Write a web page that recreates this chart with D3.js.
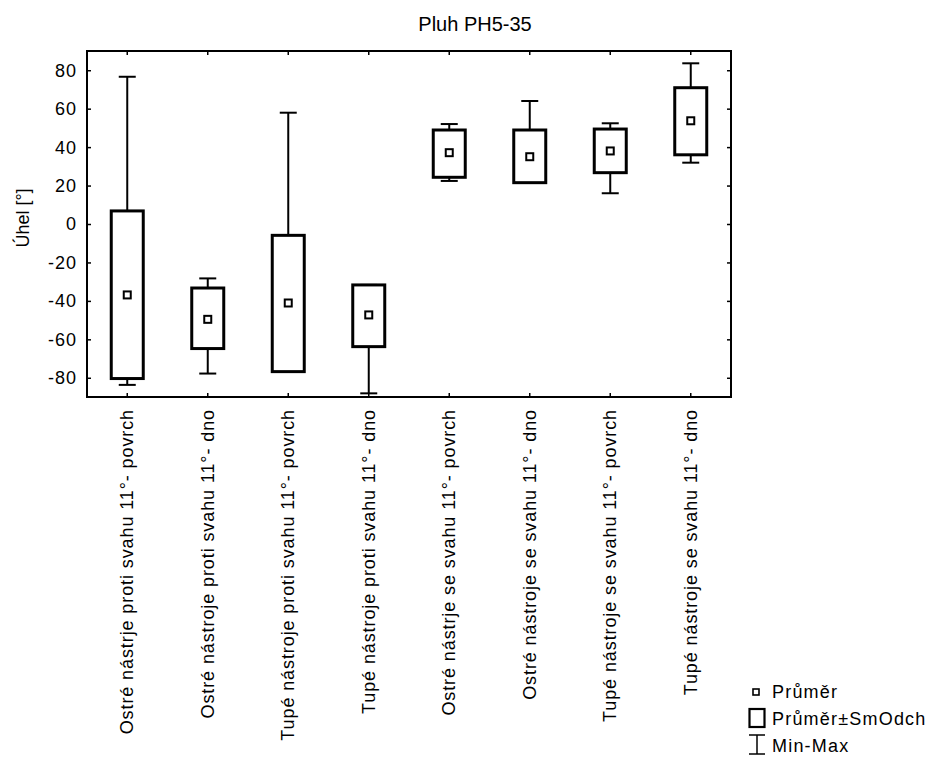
<!DOCTYPE html>
<html><head><meta charset="utf-8">
<script src="https://cdn.jsdelivr.net/npm/d3@7"></script>
<style>body{margin:0;background:#fff}svg{display:block}text{font-family:"Liberation Sans",Arial,sans-serif;fill:#000}</style>
</head><body>
<svg id="c" width="937" height="758"></svg>
<script>
const categories = [
  "Ostré nástrje proti svahu 11°- povrch",
  "Ostré nástroje proti svahu 11°- dno",
  "Tupé nástroje proti svahu 11°- povrch",
  "Tupé nástroje proti svahu 11°- dno",
  "Ostré nástrje se svahu 11°- povrch",
  "Ostré nástroje se svahu 11°- dno",
  "Tupé nástroje se svahu 11°- povrch",
  "Tupé nástroje se svahu 11°- dno"
];
const means   = [-36.9, -49.6, -41.1, -47.3, 37.1, 35.0, 38.0, 53.7];
const sdLow   = [-80.4, -64.8, -76.8, -63.8, 24.3, 21.5, 26.7, 36.0];
const sdHigh  = [6.8, -33.3, -5.9, -31.7, 48.9, 48.9, 49.4, 70.9];
const mins    = [-83.7, -77.8, -76.8, -88.1, 22.4, 21.5, 16.0, 31.9];
const maxs    = [76.6, -28.3, 57.9, -31.7, 52.0, 64.0, 52.4, 83.6];
const yTicks  = [-80, -60, -40, -20, 0, 20, 40, 60, 80];
const legendLabels = ["Průměr", "Průměr±SmOdch", "Min-Max"];
const title = "Pluh PH5-35";
const yTitle = "Úhel [°]";

const svg = d3.select("#c");
const L = 87, R = 731, T = 51, B = 397;
const x = d3.scaleBand().domain(categories).range([L, R]).padding(0);
const y = d3.scaleLinear().domain([-90, 90]).range([B, T]);
const cx = c => x(c) + x.bandwidth() / 2;
const boxW = 32, capW = 17;

// title
svg.append("text").attr("x", 475).attr("y", 31).attr("text-anchor", "middle")
  .style("font-size", "20px").text(title);

// y axis title
svg.append("text").attr("transform", "translate(29,218) rotate(-90)")
  .attr("text-anchor", "middle").style("font-size", "18px").text(yTitle);

// frame
svg.append("rect").attr("x", L).attr("y", T).attr("width", R - L).attr("height", B - T)
  .attr("fill", "none").attr("stroke", "#000").attr("stroke-width", 2);

// axes with inward ticks
const axL = svg.append("g").attr("transform", `translate(${L},0)`)
  .call(d3.axisRight(y).tickValues(yTicks).tickSize(4).tickFormat(""));
const axR = svg.append("g").attr("transform", `translate(${R},0)`)
  .call(d3.axisLeft(y).tickValues(yTicks).tickSize(4).tickFormat(""));
const axT = svg.append("g").attr("transform", `translate(0,${T})`)
  .call(d3.axisBottom(x).tickSize(4).tickFormat(""));
const axB = svg.append("g").attr("transform", `translate(0,${B})`)
  .call(d3.axisTop(x).tickSize(4).tickFormat(""));
[axL, axR, axT, axB].forEach(g => {
  g.select(".domain").remove();
  g.selectAll(".tick line").attr("stroke", "#000").attr("stroke-width", 1.5);
});

// y tick labels
svg.append("g").selectAll("text").data(yTicks).join("text")
  .attr("x", 77).attr("y", d => y(d)).attr("dy", "0.36em").attr("text-anchor", "end")
  .style("font-size", "18px").style("letter-spacing", "1px").text(d => d);

// category labels
svg.append("g").selectAll("text").data(categories).join("text")
  .attr("transform", d => `translate(${cx(d) + 6},409) rotate(-90)`)
  .attr("text-anchor", "end").style("font-size", "18px").style("letter-spacing", "0.9px")
  .text(d => d);

// boxes
const g = svg.append("g");
categories.forEach((c, i) => {
  const X = cx(c);
  if (maxs[i] > sdHigh[i]) {
    g.append("line").attr("x1", X).attr("x2", X).attr("y1", y(maxs[i])).attr("y2", y(sdHigh[i]))
      .attr("stroke", "#000").attr("stroke-width", 2);
  }
  if (mins[i] < sdLow[i]) {
    g.append("line").attr("x1", X).attr("x2", X).attr("y1", y(sdLow[i])).attr("y2", y(mins[i]))
      .attr("stroke", "#000").attr("stroke-width", 2);
  }
  g.append("line").attr("x1", X - capW / 2).attr("x2", X + capW / 2).attr("y1", y(maxs[i])).attr("y2", y(maxs[i]))
    .attr("stroke", "#000").attr("stroke-width", 2);
  g.append("line").attr("x1", X - capW / 2).attr("x2", X + capW / 2).attr("y1", y(mins[i])).attr("y2", y(mins[i]))
    .attr("stroke", "#000").attr("stroke-width", 2);
  g.append("rect").attr("x", X - boxW / 2).attr("width", boxW)
    .attr("y", y(sdHigh[i])).attr("height", y(sdLow[i]) - y(sdHigh[i]))
    .attr("fill", "#fff").attr("stroke", "#000").attr("stroke-width", 3);
  g.append("rect").attr("x", X - 3.5).attr("y", y(means[i]) - 3.5).attr("width", 7).attr("height", 7)
    .attr("fill", "#fff").attr("stroke", "#000").attr("stroke-width", 2);
});

// legend
const lg = svg.append("g");
lg.append("rect").attr("x", 753).attr("y", 689).attr("width", 6).attr("height", 6)
  .attr("fill", "#fff").attr("stroke", "#000").attr("stroke-width", 1.6);
lg.append("rect").attr("x", 749.5).attr("y", 709).attr("width", 15).attr("height", 18)
  .attr("fill", "#fff").attr("stroke", "#000").attr("stroke-width", 2.2);
lg.append("line").attr("x1", 757).attr("x2", 757).attr("y1", 735).attr("y2", 754).attr("stroke", "#000").attr("stroke-width", 1.5);
lg.append("line").attr("x1", 749).attr("x2", 765).attr("y1", 735).attr("y2", 735).attr("stroke", "#000").attr("stroke-width", 1.5);
lg.append("line").attr("x1", 749).attr("x2", 765).attr("y1", 754).attr("y2", 754).attr("stroke", "#000").attr("stroke-width", 1.5);
lg.selectAll("text").data(legendLabels).join("text")
  .attr("x", 772).attr("y", (d, i) => [698, 725, 752][i])
  .style("font-size", "18px").style("letter-spacing", "1.2px").text(d => d);
</script>
</body></html>
